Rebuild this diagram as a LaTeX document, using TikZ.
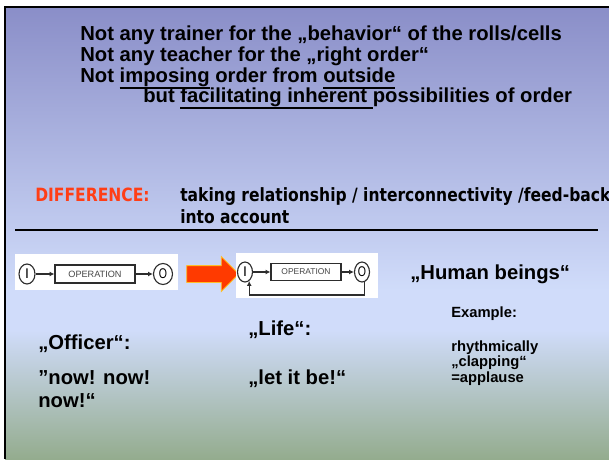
\documentclass[tikz,border=0pt]{standalone}
\usepackage{fontspec}
\setmainfont{Liberation Sans}
\newfontfamily\diffont{DejaVu Sans}
\usepackage{graphicx}
\usepackage{xcolor}
\usepackage{tikz}
\usetikzlibrary{arrows.meta,shapes.geometric,shapes.arrows}

\definecolor{bgtop}{RGB}{138,142,200}
\definecolor{bgmid}{RGB}{208,220,250}
\definecolor{bgbot}{RGB}{148,172,142}
\definecolor{diffred}{RGB}{255,62,22}
\definecolor{arrowred}{RGB}{255,58,0}
\definecolor{arrowedge}{RGB}{255,190,40}
\definecolor{diagline}{RGB}{45,45,45}
\definecolor{diagtext}{RGB}{70,70,70}

% underline at a fixed depth
\newcommand{\ulword}[1]{\setbox0\hbox{#1}\rlap{\vrule height -3pt depth 4pt width \wd0}\box0\relax}

\begin{document}
\begin{tikzpicture}[x=0.025cm, y=-0.025cm, >={Latex[length=3.5pt,width=3.5pt]},
    bigtext/.style={anchor=base west, inner sep=0pt, font=\fontsize{14.4}{16}\selectfont\bfseries},
    smalltext/.style={anchor=base west, inner sep=0pt, font=\fontsize{10.5}{12}\selectfont\bfseries},
    difftext/.style={anchor=base west, inner sep=0pt, font=\diffont\fontsize{13}{15}\selectfont\bfseries},
    endpoint/.style={draw=diagline, ellipse, line width=0.8pt, inner sep=0pt, font=\fontsize{10}{11}\selectfont},
    opbox/.style={draw=diagline, line width=0.8pt, inner sep=0pt, text=diagtext, font=\fontsize{6.5}{7}\selectfont},
    flow/.style={->, draw=diagline, line width=0.8pt},
    bigarrow/.style={single arrow, fill=arrowred, draw=arrowedge, line width=0.6pt, minimum height=1.3cm,
        inner xsep=0pt, inner ysep=0.2cm, single arrow head extend=0.225cm},
    whitepad/.style={fill=white, inner sep=0pt}]
    \useasboundingbox (0,0) rectangle (609,459);

    % Background and frame
    \fill[white] (0,0) rectangle (609,459);
    \shade[top color=bgtop, bottom color=bgmid] (5,7) rectangle (609,290);
    \fill[bgmid] (5,290) rectangle (609,330);
    \shade[top color=bgmid, bottom color=bgbot] (5,330) rectangle (609,459);
    \draw[line width=1.8pt] (5,459) -- (5,7) -- (609,7);

    % Heading lines
    \node[bigtext] (lineA) at (80,41) {Not any trainer for the „behavior“ of the rolls/cells};
    \node[bigtext] (lineB) at (80,62) {Not any teacher for the „right order“};
    \node[bigtext] (lineC) at (80,83) {Not \ulword{imposing} order from \ulword{outside}};
    \node[bigtext] (lineD) at (143,103) {but \ulword{facilitating inherent\ }possibilities of order};

    % Difference
    \node[difftext, text=diffred] (diff) at (35,201) {\scalebox{0.85}[1]{DIFFERENCE:}};
    \node[difftext] (takeA) at (180,201) {\scalebox{0.85}[1]{taking relationship / interconnectivity /feed-back}};
    \node[difftext] (takeB) at (180,223) {\scalebox{0.85}[1]{into account}};
    \draw[line width=1.4pt] (15,230) -- (598,230);

    % Plain operation
    \node[whitepad, minimum width=4.075cm, minimum height=0.9cm] (padA) at (96.5,272) {};
    \node[endpoint, minimum width=0.4cm, minimum height=0.5cm] (inA) at (27,274) {I};
    \node[opbox, minimum width=2cm, minimum height=0.45cm] (opA) at (95,274) {OPERATION};
    \node[endpoint, minimum width=0.475cm, minimum height=0.525cm] (outA) at (163,274) {\scalebox{0.75}[1]{O}};
    \draw[flow] (inA) -- (opA);
    \draw[flow] (opA) -- (outA);

    % Red arrow
    \node[bigarrow] (shift) at (208.5,274) {};

    % Operation with feed-back
    \node[whitepad, minimum width=3.55cm, minimum height=1.125cm] (padB) at (307,275.5) {};
    \node[endpoint, minimum width=0.375cm, minimum height=0.5cm] (inB) at (245,272) {I};
    \node[opbox, minimum width=1.75cm, minimum height=0.425cm, font=\fontsize{6}{7}\selectfont] (opB) at (306,272) {OPERATION};
    \node[endpoint, minimum width=0.375cm, minimum height=0.5cm] (outB) at (362,272) {\scalebox{0.75}[1]{O}};
    \draw[flow] (inB) -- (opB);
    \draw[flow] (opB) -- (outB);
    \coordinate (loopB) at (300,295);
    \draw[flow] (outB.-75) |- (loopB) -| (inB.-65);

    \node[bigtext] (human) at (410,279) {„Human beings“};

    % Lower texts
    \node[bigtext] (officer) at (38,349) {„Officer“:};
    \node[bigtext] (nowA) at (38,384) {”now! now!};
    \node[bigtext] (nowB) at (38,407) {now!“};
    \node[bigtext] (life) at (248,335) {„Life“:};
    \node[bigtext] (letbe) at (248,384) {„let it be!“};
    \node[smalltext] (example) at (451,317) {Example:};
    \node[smalltext] (rhythm) at (451,351) {rhythmically};
    \node[smalltext] (clap) at (451,366) {„clapping“};
    \node[smalltext] (applause) at (451,382) {=applause};
\end{tikzpicture}
\end{document}
